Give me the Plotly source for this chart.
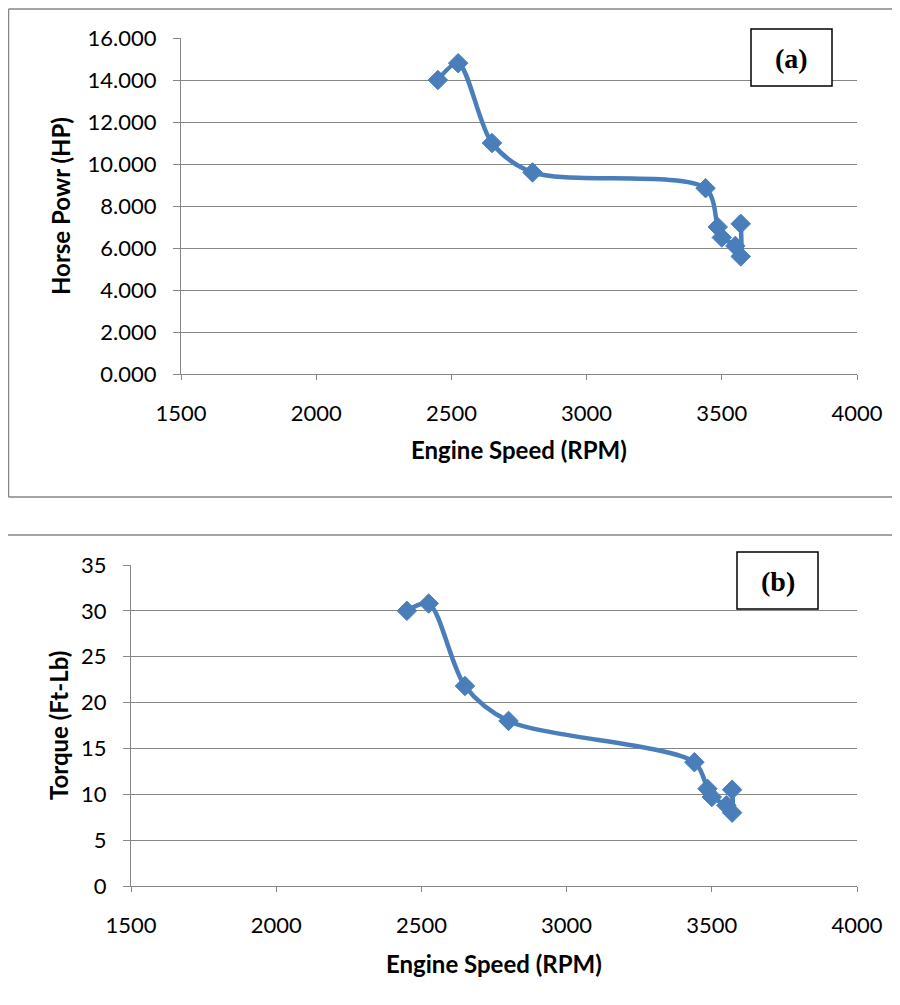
import plotly.graph_objects as go

# ---- data ----
rpm = [2450, 2525, 2650, 2800, 3440, 3485, 3500, 3550, 3570, 3570]
horse_power = [14.0, 14.8, 11.0, 9.6, 8.85, 7.0, 6.5, 6.1, 5.6, 7.15]
torque = [30.0, 30.8, 21.8, 18.0, 13.5, 10.6, 9.7, 8.8, 8.0, 10.5]

x_ticks = [1500, 2000, 2500, 3000, 3500, 4000]
hp_ticks = [0, 2, 4, 6, 8, 10, 12, 14, 16]
tq_ticks = [0, 5, 10, 15, 20, 25, 30, 35]

# page body has an 8px margin, so the figure starts at (8, 8) in the window;
# size it so the page exactly fits the 900x1005 window
OFF = 8
W, H = 900 - 2 * OFF, 1005 - 2 * OFF
def px(x):
    return (x - OFF) / W
def py(y):
    return 1 - (y - OFF) / H

BLUE = "#4A7EBB"
GRAY = "#868686"
FONT = "Lato"

fig = go.Figure()
line = dict(color=BLUE, width=4.5, shape="spline", smoothing=0.85)
marker = dict(symbol="diamond", size=15, color=BLUE, line=dict(color=BLUE, width=1))

fig.add_trace(go.Scatter(x=rpm, y=horse_power, mode="lines+markers", line=line,
                         marker=marker, xaxis="x", yaxis="y", showlegend=False))
fig.add_trace(go.Scatter(x=rpm, y=torque, mode="lines+markers", line=line,
                         marker=marker, xaxis="x2", yaxis="y2", showlegend=False))

tickfont = dict(family=FONT, size=22, color="#000000")
xcommon = dict(range=[1500, 4000], tickvals=x_ticks, showgrid=False, zeroline=False,
               showline=True, linecolor=GRAY, linewidth=1.3, ticks="outside",
               ticklen=5, tickcolor=GRAY, tickwidth=1.3, tickfont=tickfont,
               ticklabelstandoff=14, automargin=False)
ycommon = dict(showgrid=True, gridcolor=GRAY, gridwidth=1.3, zeroline=False,
               showline=True, linecolor=GRAY, linewidth=1.3, ticks="outside",
               ticklen=7, tickcolor=GRAY, tickwidth=1.3, tickfont=tickfont,
               ticklabelstandoff=12, automargin=False)

fig.update_layout(
    width=W, height=H,
    margin=dict(l=0, r=0, t=0, b=0, pad=0, autoexpand=False),
    paper_bgcolor="white", plot_bgcolor="white",
    xaxis=dict(domain=[px(181), px(857)], anchor="y", **xcommon),
    yaxis=dict(domain=[py(374), py(38)], anchor="x", range=[0, 16],
               tickvals=hp_ticks, tickformat=".3f", **ycommon),
    xaxis2=dict(domain=[px(131), px(857)], anchor="y2", **xcommon),
    yaxis2=dict(domain=[py(886), py(565)], anchor="x2", range=[0, 35],
                tickvals=tq_ticks, **ycommon),
)

frame = dict(color=GRAY, width=1.5)
def seg(x0, y0, x1, y1, ln):
    return dict(type="line", xref="paper", yref="paper", x0=px(x0), y0=py(y0),
                x1=px(x1), y1=py(y1), line=ln, layer="below")

shapes = [
    # outer frame of chart (a): top, left, bottom (right side runs off the page)
    seg(8.5, 9, 905, 9, frame),
    seg(8.5, 9, 8.5, 497, frame),
    seg(8.5, 497, 905, 497, frame),
    # outer frame of chart (b): top, left (bottom runs off the page)
    seg(6.5, 535, 905, 535, frame),
    seg(6.5, 535, 6.5, 1010, frame),
    # label boxes
    dict(type="rect", xref="paper", yref="paper", x0=px(751), x1=px(832), y0=py(86), y1=py(29),
         line=dict(color="black", width=1.5), fillcolor="white", layer="above"),
    dict(type="rect", xref="paper", yref="paper", x0=px(737), x1=px(818), y0=py(609), y1=py(552),
         line=dict(color="black", width=1.5), fillcolor="white", layer="above"),
]
fig.update_layout(shapes=shapes)

title_font = dict(family=FONT, size=24, color="#000000")
label_font = dict(family="Liberation Serif", size=28, color="#000000")
annotations = [
    dict(text="<b>Engine Speed (RPM)</b>", x=px(519), y=py(450), xref="paper", yref="paper",
         showarrow=False, font=title_font, xanchor="center", yanchor="middle"),
    dict(text="<b>Engine Speed (RPM)</b>", x=px(494), y=py(963), xref="paper", yref="paper",
         showarrow=False, font=title_font, xanchor="center", yanchor="middle"),
    dict(text="<b>Horse Powr (HP)</b>", x=px(60), y=py(206), xref="paper", yref="paper",
         showarrow=False, font=title_font, textangle=-90, xanchor="center", yanchor="middle"),
    dict(text="<b>Torque (Ft-Lb)</b>", x=px(58), y=py(726), xref="paper", yref="paper",
         showarrow=False, font=title_font, textangle=-90, xanchor="center", yanchor="middle"),
    dict(text="<b>(a)</b>", x=px(791.5), y=py(58), xref="paper", yref="paper",
         showarrow=False, font=label_font, xanchor="center", yanchor="middle"),
    dict(text="<b>(b)</b>", x=px(777.5), y=py(581), xref="paper", yref="paper",
         showarrow=False, font=label_font, xanchor="center", yanchor="middle"),
]
fig.update_layout(annotations=annotations)

fig.write_html("out.html")
